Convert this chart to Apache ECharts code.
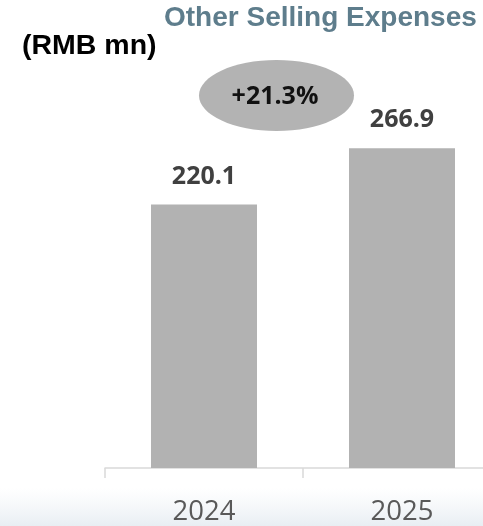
<!DOCTYPE html>
<html>
<head>
<meta charset="utf-8">
<script src="https://cdn.jsdelivr.net/npm/echarts@6/dist/echarts.min.js"></script>
<style>
  html, body { margin: 0; padding: 0; background: #ffffff; overflow: hidden; }
  /* the plot runs past the right edge of the window, so the canvas is wider than the view */
  #chart { width: 501px; height: 526px; }
</style>
</head>
<body>
<div id="chart"></div>
<script>
// Other selling expenses, RMB mn
const years = ['2024', '2025'];
const expenses = [220.1, 266.9];
const titleText = 'Other Selling Expenses';
const unitText = '(RMB mn)';

const growth = (expenses[1] / expenses[0] - 1) * 100;
const growthText = (growth >= 0 ? '+' : '') + growth.toFixed(1) + '%';

const chart = echarts.init(document.getElementById('chart'));

chart.setOption({
  animation: false,
  backgroundColor: '#ffffff',
  grid: { left: 105, right: 0, top: 108.7, bottom: 52, containLabel: false },
  xAxis: {
    type: 'category',
    data: years,
    axisLine: { show: true, lineStyle: { color: '#d9d9d9', width: 1.5 } },
    axisTick: { show: true, length: 10, alignWithLabel: false, lineStyle: { color: '#d9d9d9', width: 1.5 } },
    axisLabel: {
      color: '#595959',
      fontFamily: 'Open Sans',
      fontSize: 27.5,
      margin: 30,
      lineHeight: 28
    }
  },
  yAxis: {
    type: 'value',
    min: 0,
    max: 300,
    show: false,
    splitLine: { show: false }
  },
  series: [{
    type: 'bar',
    data: expenses,
    barWidth: 106,
    itemStyle: { color: '#b2b2b2' },
    label: {
      show: true,
      position: 'top',
      distance: 15,
      color: '#404040',
      fontFamily: 'Open Sans',
      fontWeight: 'bold',
      fontSize: 25,
      lineHeight: 26,
      formatter: p => p.value.toFixed(1)
    }
  }],
  graphic: [
    {
      type: 'rect',
      left: 0,
      top: 488,
      shape: { width: 501, height: 38 },
      style: {
        fill: new echarts.graphic.LinearGradient(0, 0, 0, 1, [
          { offset: 0, color: 'rgba(238,242,246,0)' },
          { offset: 1, color: 'rgba(232,238,243,1)' }
        ])
      },
      z: -1
    },
    {
      type: 'text',
      left: 164,
      top: 4,
      style: {
        text: titleText,
        fill: '#5e7d8c',
        font: 'bold 28px "Liberation Sans", Arial, sans-serif'
      }
    },
    {
      type: 'text',
      left: 22,
      top: 32,
      style: {
        text: unitText,
        fill: '#000000',
        font: 'bold 28.5px "Liberation Sans", Arial, sans-serif'
      }
    },
    {
      type: 'ellipse',
      shape: { cx: 276.5, cy: 95.5, rx: 77.5, ry: 35.5 },
      style: { fill: '#b3b3b3' }
    },
    {
      type: 'text',
      x: 275,
      y: 97,
      style: {
        text: growthText,
        fill: '#111111',
        font: 'bold 25px "Open Sans", sans-serif',
        align: 'center',
        verticalAlign: 'middle'
      },
      z: 10
    }
  ]
});
</script>
</body>
</html>
